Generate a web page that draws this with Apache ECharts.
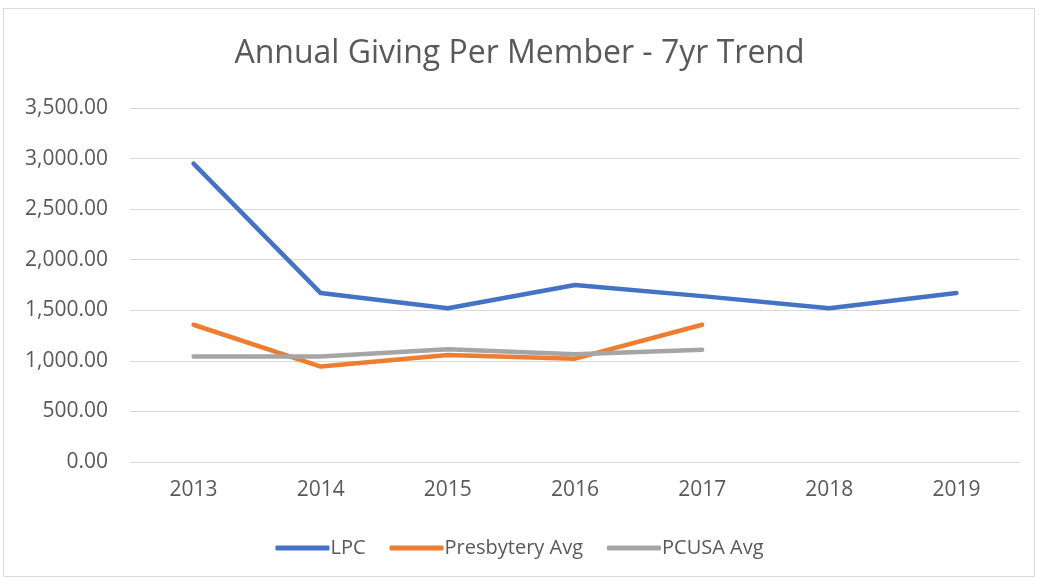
<!DOCTYPE html>
<html>
    <head>
        <meta charset="utf-8">
        <script src="https://cdn.jsdelivr.net/npm/echarts@6/dist/echarts.min.js"></script>
        <style>
            html, body { margin: 0; padding: 0; background: #fff; }
            #main { width: 1039px; height: 579px; }
        </style>
    </head>
    <body>
        <div id="main"></div>
        <script>
            var years = ['2013', '2014', '2015', '2016', '2017', '2018', '2019'];
            var lpc = [2950, 1670, 1520, 1750, 1640, 1520, 1670];
            var presbytery = [1357, 944, 1058, 1022, 1357];
            var pcusa = [1043, 1043, 1114, 1066, 1109];

            var TEXT_COLOR = '#595959';
            var FONT = '"Open Sans", "Liberation Sans", sans-serif';

            var chart = echarts.init(document.getElementById('main'), null, {renderer: 'canvas'});

            function fmt(v) {
                return v.toLocaleString('en-US', {minimumFractionDigits: 2, maximumFractionDigits: 2});
            }

            chart.setOption({
                animation: false,
                title: {
                    text: 'Annual Giving Per Member - 7yr Trend',
                    left: 'center',
                    top: 33,
                    textStyle: {
                        color: TEXT_COLOR,
                        fontSize: 32,
                        fontWeight: 'normal',
                        fontFamily: FONT
                    }
                },
                graphic: [{
                    type: 'rect',
                    shape: {x: 3.5, y: 8.5, width: 1031, height: 568},
                    style: {fill: null, stroke: '#d9d9d9', lineWidth: 1}
                }],
                grid: {
                    left: 130,
                    right: 19,
                    top: 108,
                    bottom: 117,
                    containLabel: false
                },
                legend: {
                    bottom: 16,
                    left: 'center',
                    icon: 'roundRect',
                    itemWidth: 54,
                    itemHeight: 5,
                    itemGap: 24,
                    textStyle: {
                        color: TEXT_COLOR,
                        fontSize: 20,
                        fontFamily: FONT,
                        padding: [0, 0, 0, -4]
                    },
                    data: ['LPC', 'Presbytery Avg', 'PCUSA Avg']
                },
                xAxis: {
                    type: 'category',
                    data: years,
                    boundaryGap: true,
                    axisLine: {lineStyle: {color: '#d9d9d9', width: 1}},
                    axisTick: {show: false},
                    axisLabel: {
                        color: TEXT_COLOR,
                        fontSize: 21,
                        fontFamily: FONT,
                        margin: 18
                    }
                },
                yAxis: {
                    type: 'value',
                    min: 0,
                    max: 3500,
                    interval: 500,
                    axisLine: {show: false},
                    axisTick: {show: false},
                    splitLine: {lineStyle: {color: '#d9d9d9', width: 1}},
                    axisLabel: {
                        color: TEXT_COLOR,
                        fontSize: 21,
                        fontFamily: FONT,
                        margin: 22,
                        formatter: fmt
                    }
                },
                series: [
                    {
                        name: 'LPC',
                        type: 'line',
                        data: lpc,
                        showSymbol: false,
                        symbol: 'none',
                        lineStyle: {color: '#4472C4', width: 4.5, cap: 'round', join: 'round'},
                        itemStyle: {color: '#4472C4'}
                    },
                    {
                        name: 'Presbytery Avg',
                        type: 'line',
                        data: presbytery,
                        showSymbol: false,
                        symbol: 'none',
                        lineStyle: {color: '#ED7D31', width: 4.5, cap: 'round', join: 'round'},
                        itemStyle: {color: '#ED7D31'}
                    },
                    {
                        name: 'PCUSA Avg',
                        type: 'line',
                        data: pcusa,
                        showSymbol: false,
                        symbol: 'none',
                        lineStyle: {color: '#A5A5A5', width: 4.5, cap: 'round', join: 'round'},
                        itemStyle: {color: '#A5A5A5'}
                    }
                ]
            });
        </script>
    </body>
</html>
